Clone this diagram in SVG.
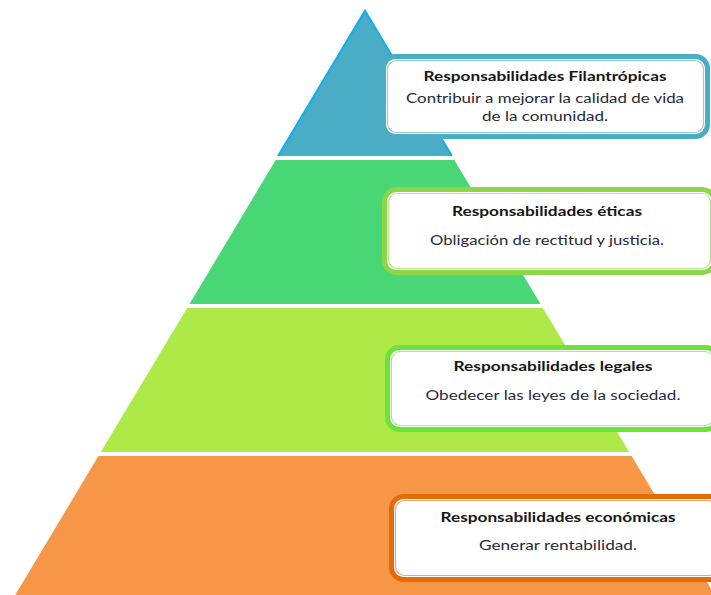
<svg xmlns="http://www.w3.org/2000/svg" width="711" height="595" viewBox="0 0 711 595">
  <style>
    .title { font-family: Lato, "Open Sans", "Liberation Sans", sans-serif; font-weight: bold; font-size: 13.5px; fill: #161616; text-anchor: middle; }
    .body { font-family: Lato, "Open Sans", "Liberation Sans", sans-serif; font-size: 13.5px; fill: #262a36; text-anchor: middle; }
    .card { fill: #ffffff; stroke-width: 5; }
    .inner { fill: none; stroke-width: 1.2; }
  </style>
  <rect width="711" height="595" fill="#ffffff"/>

  <!-- pyramid tiers -->
  <g id="tier-filantropicas">
    <polygon points="365,11 451.9,156 278.1,156" fill="#4BACC6"/>
    <polyline points="278.1,156 365,11 451.9,156" fill="none" stroke="#17AEEB" stroke-width="2.2" stroke-linejoin="miter"/>
  </g>
  <g id="tier-eticas">
    <polygon points="275.7,160 454.3,160 540.5,304 189.5,304" fill="#48D774"/>
  </g>
  <g id="tier-legales">
    <polygon points="187.1,308 542.9,308 629.2,452 100.8,452" fill="#AEEA47"/>
  </g>
  <g id="tier-economicas">
    <polygon points="98.4,456 631.6,456 714.8,595 15.2,595" fill="#F79646"/>
  </g>

  <!-- description cards -->
  <g id="card-filantropicas">
    <rect class="card" x="383.5" y="56.5" width="324" height="80" rx="12" stroke="#4BACC6"/>
    <rect class="inner" x="387.5" y="60.5" width="316" height="72" rx="9" stroke="#8FD0E0"/>
    <text class="title" x="545" y="81" textLength="243" lengthAdjust="spacingAndGlyphs">Responsabilidades Filantrópicas</text>
    <text class="body" x="545" y="103" textLength="278" lengthAdjust="spacingAndGlyphs">Contribuir a mejorar la calidad de vida</text>
    <text class="body" x="545" y="121" textLength="126" lengthAdjust="spacingAndGlyphs">de la comunidad.</text>
  </g>
  <g id="card-eticas">
    <rect class="card" x="384.5" y="189.5" width="330" height="83" rx="12" stroke="#8CD64A"/>
    <rect class="inner" x="388.5" y="193.5" width="322" height="75" rx="9" stroke="#B7E68C"/>
    <text class="title" x="547" y="216" textLength="190" lengthAdjust="spacingAndGlyphs">Responsabilidades éticas</text>
    <text class="body" x="547" y="245" textLength="234" lengthAdjust="spacingAndGlyphs">Obligación de rectitud y justicia.</text>
  </g>
  <g id="card-legales">
    <rect class="card" x="387.5" y="347.5" width="330" height="82" rx="12" stroke="#6DE23A"/>
    <rect class="inner" x="391.5" y="351.5" width="322" height="74" rx="9" stroke="#A6EE86"/>
    <text class="title" x="553" y="371" textLength="199" lengthAdjust="spacingAndGlyphs">Responsabilidades legales</text>
    <text class="body" x="553" y="400" textLength="255" lengthAdjust="spacingAndGlyphs">Obedecer las leyes de la sociedad.</text>
  </g>
  <g id="card-economicas">
    <rect class="card" x="391.5" y="496.5" width="330" height="83" rx="12" stroke="#E36C0A"/>
    <rect class="inner" x="395.5" y="500.5" width="322" height="75" rx="9" stroke="#EFA46A"/>
    <text class="title" x="558" y="522" textLength="235" lengthAdjust="spacingAndGlyphs">Responsabilidades económicas</text>
    <text class="body" x="558" y="550" textLength="158" lengthAdjust="spacingAndGlyphs">Generar rentabilidad.</text>
  </g>

  <g id="connectors"/>
</svg>
